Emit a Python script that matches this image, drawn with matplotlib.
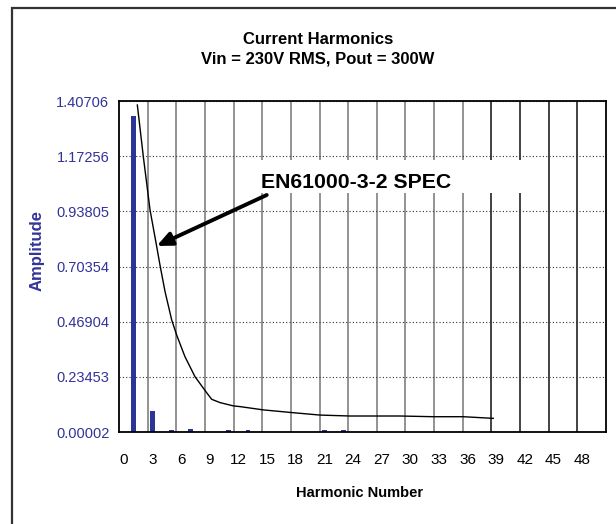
import matplotlib
matplotlib.use("Agg")
import matplotlib.pyplot as plt
import matplotlib.font_manager as fm
from matplotlib.patches import Rectangle

# measured harmonic amplitudes (bars)
harm = [1, 3, 5, 7, 11, 13, 21, 23]
amp = [1.3446, 0.0906, 0.008, 0.012, 0.008, 0.008, 0.007, 0.007]

# EN61000-3-2 limit curve
spec_harm = [1.42, 2.04, 2.75, 3.45, 3.79, 4.32, 5.02, 5.54, 6.41, 7.46, 8.68,
             9.21, 10.08, 11.47, 12.17, 14.61, 17.75, 20.55, 23.69, 28.93,
             32.41, 35.56, 38.7]
spec_amp = [1.390, 1.173, 0.944, 0.788, 0.710, 0.597, 0.476, 0.412, 0.320,
            0.235, 0.167, 0.139, 0.125, 0.111, 0.108, 0.094, 0.082, 0.072,
            0.068, 0.068, 0.065, 0.065, 0.058]

x_ticks = list(range(0, 49, 3))
y_ticks = [0.00002, 0.23453, 0.46904, 0.70354, 0.93805, 1.17256, 1.40706]
y_labels = ["0.00002", "0.23453", "0.46904", "0.70354", "0.93805", "1.17256", "1.40706"]
n_cat = 51

# a narrow bold face for the callout if one is installed
narrow = None
for f in fm.fontManager.ttflist:
    if 'LiberationSansNarrow-Bold.' in f.fname or 'ArialNarrow' in f.fname.replace(' ', ''):
        narrow = f.fname
        break

plt.rcParams['font.family'] = ['Liberation Sans', 'DejaVu Sans']

blue = '#333399'

fig = plt.figure(figsize=(6.16, 5.24), dpi=100)
ax = fig.add_axes([119/616, 1-432/524, 487/616, 331/524])

ax.bar(harm, amp, width=0.5, color='#2B3595', zorder=2)
ax.plot(spec_harm, spec_amp, color='black', lw=1.0, zorder=3)

ax.set_xlim(-0.5, n_cat - 0.5)
ax.set_ylim(y_ticks[0], y_ticks[-1])
ax.set_xticks(x_ticks)
ax.set_xticklabels([str(t) for t in x_ticks])
ax.set_xticks([t - 0.5 for t in x_ticks[1:]], minor=True)
ax.set_yticks(y_ticks)
ax.set_yticklabels(y_labels)
ax.tick_params(axis='x', which='both', length=0, pad=15, labelsize=11)
ax.tick_params(axis='y', length=0, pad=7, labelsize=10.5, labelcolor=blue)

ax.set_axisbelow(True)
ax.grid(False)
ax.yaxis.grid(True, linestyle=(0, (1, 2)), color='#333333', lw=0.8)
ax.xaxis.grid(True, which='minor', color='#808080', lw=1.2)
for t, tk in zip(x_ticks[1:], ax.xaxis.get_minor_ticks()):
    if t >= 39:
        tk.gridline.set_color('#222222')
for s in ax.spines.values():
    s.set_color('black')
    s.set_linewidth(1.3)

# label box for the spec curve
ax.add_patch(Rectangle((0.269, 0.722), 0.575, 0.10, transform=ax.transAxes,
                       facecolor='white', edgecolor='none', zorder=1.5))
if narrow:
    fp = fm.FontProperties(fname=narrow, size=18)
else:
    fp = fm.FontProperties(family='Liberation Sans', weight='bold', size=15.3)
ax.text(0.291, 0.737, "EN61000-3-2 SPEC", transform=ax.transAxes,
        fontproperties=fp, ha='left', va='baseline', zorder=4)
ax.annotate('', xy=(0.0774, 0.562), xytext=(0.3033, 0.716),
            xycoords='axes fraction', textcoords='axes fraction',
            arrowprops=dict(arrowstyle='-|>,head_length=0.9,head_width=0.4',
                            color='black', lw=2.8, shrinkA=0, shrinkB=0),
            zorder=4)

fig.text(318/616, 1-39.5/524, "Current Harmonics", ha='center', va='center',
         fontsize=12, fontweight='bold')
fig.text(318/616, 1-59/524, "Vin = 230V RMS, Pout = 300W", ha='center', va='center',
         fontsize=12, fontweight='bold')
fig.text(360/616, 1-493/524, "Harmonic Number", ha='center', va='center',
         fontsize=10.5, fontweight='bold')
fig.text(37/616, 1-250/524, "Amplitude", ha='center', va='center', rotation=90,
         fontsize=12, fontweight='bold', color=blue)

# outer chart frame (right and bottom run off the image)
fig.patches.append(Rectangle((12/616, -0.1), 1.2, 1.1-8/524, transform=fig.transFigure,
                             fill=False, edgecolor='#333333', lw=1.6))

fig.savefig("out.png", dpi=100)
